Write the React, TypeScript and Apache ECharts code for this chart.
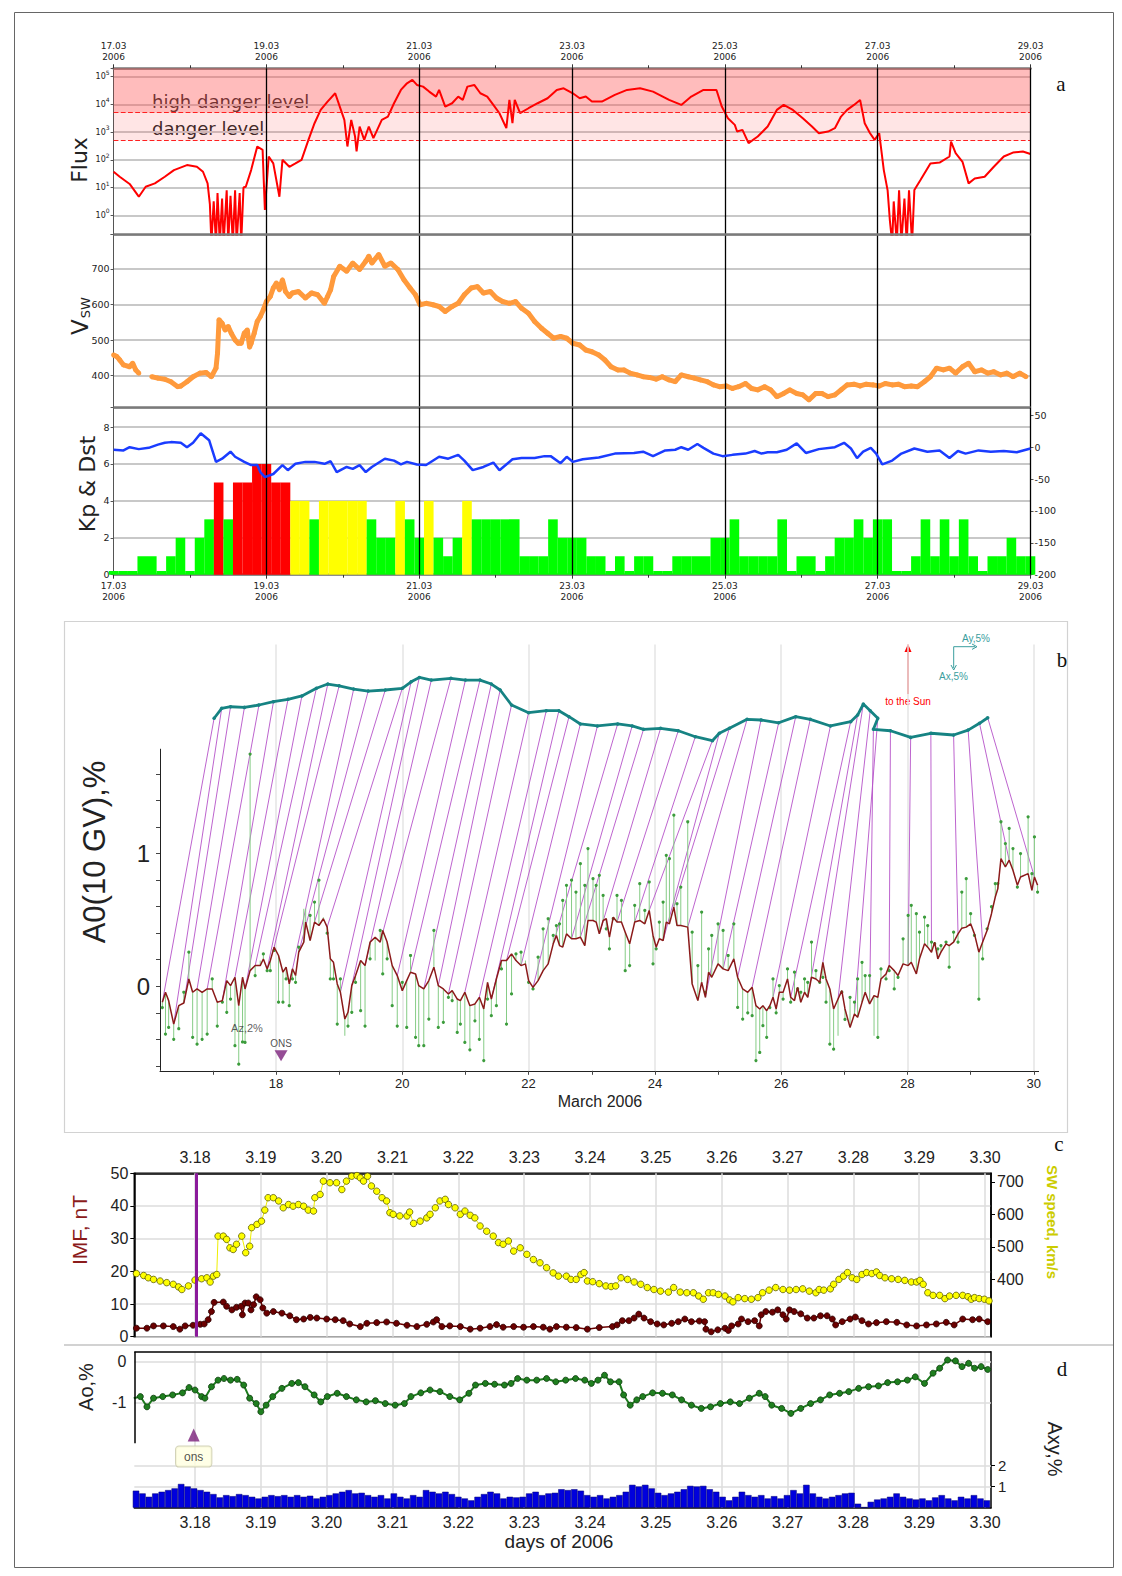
import React, { useEffect, useRef } from 'react';
import * as echarts from 'echarts';

const W = 1122;
const H = 1576;
const FA = 'DejaVu Sans';
const FB = 'Liberation Sans';

// ================= Panel a (days since 17.03.2006) =================
const aBlackLines = [2, 4, 6, 8, 10, 12];
const fluxMin = -0.7;
const fluxMax = 5.3;
const highDangerLevel = 5000;
const dangerLevel = 500;
// log10(flux)
const fluxLog = [
  [0.0, 1.57], [0.08, 1.39], [0.21, 1.13], [0.33, 0.67], [0.42, 1.03], [0.54, 1.15], [0.67, 1.39], [0.79, 1.63],
  [0.96, 1.81], [1.09, 1.75], [1.17, 1.57], [1.23, 1.15], [1.26, 0.4], [1.28, -1], [1.31, 0.5], [1.34, -1],
  [1.36, 0.8], [1.39, -1], [1.42, 0.6], [1.44, -1], [1.48, 0.9], [1.5, -1], [1.53, 0.7], [1.56, -1], [1.59, 0.9],
  [1.61, -1], [1.65, 0.8], [1.67, -1], [1.7, 1.0], [1.73, 1.03], [1.8, 1.63], [1.88, 2.48], [1.95, 2.36],
  [1.98, 0.19], [2.03, 2.12], [2.09, 1.87], [2.17, 0.67], [2.21, 2.0], [2.3, 1.75], [2.38, 1.87], [2.46, 2.0],
  [2.55, 2.72], [2.63, 3.32], [2.71, 3.8], [2.8, 4.1], [2.9, 4.4], [2.96, 3.92], [3.02, 3.44], [3.06, 2.48],
  [3.11, 3.44], [3.16, 2.84], [3.18, 2.3], [3.22, 3.2], [3.28, 2.72], [3.34, 3.2], [3.4, 2.78], [3.45, 3.08],
  [3.51, 3.44], [3.59, 3.56], [3.67, 4.04], [3.76, 4.52], [3.84, 4.76], [3.91, 4.88], [3.97, 4.7], [4.05, 4.64],
  [4.13, 4.46], [4.22, 4.28], [4.26, 4.52], [4.34, 3.92], [4.43, 4.04], [4.51, 4.28], [4.57, 4.16], [4.63, 4.64],
  [4.72, 4.7], [4.8, 4.4], [4.89, 4.28], [4.97, 3.98], [5.05, 3.68], [5.14, 3.14], [5.18, 4.16], [5.22, 3.32],
  [5.25, 4.16], [5.32, 3.68], [5.43, 3.86], [5.55, 4.04], [5.68, 4.22], [5.8, 4.52], [5.89, 4.58], [6.01, 4.4],
  [6.1, 4.22], [6.18, 4.28], [6.26, 4.1], [6.39, 4.1], [6.56, 4.34], [6.72, 4.52], [6.89, 4.58], [7.06, 4.46],
  [7.27, 4.16], [7.43, 3.98], [7.56, 4.28], [7.72, 4.52], [7.89, 4.52], [7.96, 3.92], [8.04, 3.5], [8.13, 3.26],
  [8.16, 3.02], [8.23, 3.08], [8.31, 2.6], [8.43, 2.84], [8.56, 3.2], [8.68, 3.8], [8.77, 3.98], [8.89, 3.8],
  [9.02, 3.5], [9.14, 3.2], [9.23, 2.96], [9.35, 3.02], [9.44, 3.14], [9.52, 3.56], [9.6, 3.8], [9.69, 3.98],
  [9.77, 4.16], [9.83, 3.32], [9.9, 2.96], [9.96, 2.72], [10.02, 2.96], [10.08, 1.63], [10.13, 0.9], [10.16, -0.2],
  [10.19, -1], [10.21, 0.5], [10.25, -1], [10.28, 0.9], [10.31, -1], [10.35, 0.6], [10.38, -1], [10.41, 0.9],
  [10.45, -1], [10.48, 0.91], [10.56, 1.27], [10.69, 1.87], [10.81, 1.9], [10.94, 2.12], [10.96, 2.66],
  [11.02, 2.24], [11.11, 1.93], [11.19, 1.15], [11.27, 1.33], [11.4, 1.39], [11.52, 1.75], [11.65, 2.12],
  [11.77, 2.26], [11.9, 2.3], [12.0, 2.21],
];
const vswMin = 310;
const vswMax = 795.6;
const vswData = [
  [0.0, 458], [0.04, 454], [0.08, 444], [0.13, 430], [0.21, 425], [0.25, 435], [0.29, 416], [0.33, 407], [0.41, null],
  [0.5, 397], [0.58, 393], [0.67, 390], [0.75, 383], [0.84, 369], [0.88, 371], [0.96, 383], [1.04, 397], [1.13, 407],
  [1.21, 409], [1.28, 397], [1.34, 421], [1.36, 463], [1.38, 557], [1.42, 547], [1.46, 528], [1.5, 538], [1.54, 519],
  [1.59, 500], [1.63, 491], [1.67, 491], [1.71, 519], [1.75, 528], [1.78, 480], [1.8, 491], [1.84, 519], [1.88, 552],
  [1.92, 566], [1.96, 585], [2.0, 608], [2.05, 622], [2.09, 646], [2.13, 660], [2.17, 641], [2.21, 669], [2.25, 636],
  [2.3, 622], [2.34, 632], [2.42, 636], [2.51, 618], [2.59, 632], [2.67, 627], [2.76, 603], [2.8, 622], [2.84, 641],
  [2.88, 678], [2.96, 707], [3.05, 693], [3.13, 716], [3.22, 698], [3.3, 721], [3.34, 735], [3.38, 716], [3.47, 740],
  [3.55, 707], [3.63, 716], [3.72, 698], [3.8, 669], [3.88, 646], [3.95, 627], [4.01, 599], [4.09, 603], [4.18, 599],
  [4.26, 594], [4.34, 580], [4.43, 594], [4.51, 603], [4.59, 627], [4.68, 646], [4.76, 650], [4.84, 632], [4.93, 636],
  [5.01, 618], [5.09, 608], [5.18, 603], [5.26, 608], [5.34, 589], [5.43, 575], [5.51, 552], [5.6, 533], [5.68, 519],
  [5.76, 505], [5.85, 510], [5.93, 505], [6.01, 491], [6.1, 486], [6.18, 472], [6.26, 467], [6.35, 458], [6.43, 444],
  [6.51, 425], [6.6, 416], [6.68, 416], [6.76, 407], [6.85, 402], [6.93, 397], [7.01, 395], [7.1, 390], [7.18, 397],
  [7.27, 388], [7.35, 383], [7.43, 402], [7.52, 397], [7.6, 393], [7.68, 388], [7.77, 383], [7.85, 374], [7.93, 369],
  [8.02, 371], [8.1, 364], [8.18, 369], [8.27, 378], [8.35, 364], [8.43, 360], [8.52, 369], [8.6, 360], [8.68, 341],
  [8.77, 350], [8.85, 360], [8.94, 350], [9.02, 346], [9.1, 332], [9.19, 350], [9.27, 350], [9.35, 341], [9.44, 346],
  [9.52, 360], [9.6, 374], [9.69, 376], [9.77, 371], [9.85, 376], [9.94, 374], [10.02, 371], [10.1, 378], [10.19, 374],
  [10.27, 376], [10.35, 369], [10.44, 371], [10.52, 369], [10.61, 383], [10.69, 397], [10.77, 421], [10.86, 416],
  [10.94, 421], [11.02, 407], [11.11, 425], [11.19, 435], [11.27, 411], [11.36, 416], [11.44, 407], [11.52, 411],
  [11.61, 402], [11.69, 407], [11.77, 397], [11.86, 407], [11.94, 397],
];
const dstData = [
  [0.0, -4], [0.13, -5], [0.21, 0], [0.33, -3], [0.46, -1], [0.58, 4], [0.67, 7], [0.75, 8], [0.88, 7], [0.96, 0],
  [1.04, 7], [1.14, 22], [1.25, 11], [1.34, -23], [1.42, -18], [1.53, -7], [1.59, -15], [1.71, -23], [1.8, -28],
  [1.88, -28], [1.92, -39], [1.98, -47], [2.09, -42], [2.21, -28], [2.28, -36], [2.38, -26], [2.51, -23], [2.63, -23],
  [2.76, -26], [2.84, -22], [2.92, -39], [3.05, -31], [3.13, -34], [3.22, -28], [3.3, -39], [3.38, -31], [3.55, -18],
  [3.67, -21], [3.76, -27], [3.84, -23], [3.97, -27], [4.09, -28], [4.26, -15], [4.38, -18], [4.51, -12], [4.59, -21],
  [4.7, -36], [4.84, -31], [4.97, -24], [5.05, -36], [5.22, -19], [5.34, -17], [5.51, -17], [5.64, -14], [5.72, -14],
  [5.85, -25], [5.93, -15], [6.01, -23], [6.14, -19], [6.35, -16], [6.56, -10], [6.81, -9], [6.93, -7], [7.06, -14],
  [7.22, -5], [7.35, -4], [7.43, 0], [7.52, -4], [7.64, 5], [7.72, -1], [7.85, -10], [7.97, -14], [8.1, -12],
  [8.27, -10], [8.39, -6], [8.48, -10], [8.56, -8], [8.68, -8], [8.81, -4], [8.94, 6], [9.06, -9], [9.23, -3],
  [9.44, 0], [9.56, 7], [9.65, -2], [9.73, -17], [9.81, -7], [9.91, -1], [9.98, -10], [10.06, -27], [10.19, -21],
  [10.31, -10], [10.48, -2], [10.65, -7], [10.81, -5], [10.94, -17], [11.05, -6], [11.15, -10], [11.32, -5],
  [11.48, -7], [11.65, -6], [11.82, -8], [12.0, -2],
];
// Kp every 3 hours, starting 17.03 00 UT
const kpStepDays = 0.125;
const kpValues = [
  0.2, 0.2, 0.2, 1, 1, 0.2, 1, 2, 0.2, 2,
  3, 5, 3, 5, 5, 6, 6, 5, 5, 4,
  4, 3, 4, 4, 4, 4, 4, 3, 2, 2,
  4, 3, 2, 4, 2, 1, 2, 4, 3, 3,
  3, 3, 3, 1, 1, 1, 3, 2, 2, 2,
  1, 1, 0.2, 1, 0.2, 1, 1, 0.2, 0.2, 1,
  1, 1, 1, 2, 2, 3, 1, 1, 1, 1,
  3, 0.2, 1, 1, 0.2, 1, 2, 2, 3, 2,
  3, 3, 0.2, 0.2, 1, 3, 1, 3, 1, 3,
  1, 0.2, 1, 1, 2, 1, 1,
];

// ================= Panel b (day of March 2006) =================
const xMinB = 16.163;
const xMaxB = 30.076;
const yMinB = -0.637;
const yMaxB = 2.576;
const yAxisTopB = 1.79;
const bDayLabels = [18, 20, 22, 24, 26, 28, 30];
const bDayTicks = [17, 18, 19, 20, 21, 22, 23, 24, 25, 26, 27, 28, 29, 30];
const bValLabels = [0, 1];
const bValTicks = [-0.6, -0.4, -0.2, 0, 0.2, 0.4, 0.6, 0.8, 1, 1.2, 1.4, 1.6];
const a0Day = [
  16.2, 16.25, 16.3, 16.38, 16.46, 16.54, 16.62, 16.68, 16.75, 16.83, 16.91, 16.99, 17.07, 17.15, 17.22, 17.28, 17.35,
  17.41, 17.47, 17.51, 17.59, 17.67, 17.75, 17.8, 17.86, 17.91, 17.97, 18.04, 18.11, 18.16, 18.21, 18.26, 18.31, 18.36,
  18.44, 18.47, 18.54, 18.61, 18.68, 18.75, 18.81, 18.86, 18.91, 18.97, 19.02, 19.09, 19.14, 19.2, 19.26, 19.34, 19.41,
  19.49, 19.57, 19.65, 19.69, 19.76, 19.84, 19.92, 20.0, 20.07, 20.13, 20.21, 20.26, 20.34, 20.42, 20.5, 20.57, 20.65,
  20.73, 20.79, 20.87, 20.92,
  20.99, 21.07, 21.15, 21.22, 21.29, 21.35, 21.41, 21.49, 21.57, 21.65, 21.73, 21.8, 21.88, 21.95, 22.0, 22.07, 22.15,
  22.23, 22.31, 22.39, 22.44, 22.49, 22.54, 22.6, 22.68, 22.75, 22.82, 22.89, 22.94, 23.02, 23.07, 23.12, 23.18, 23.23,
  23.28, 23.34, 23.4, 23.47, 23.53, 23.6, 23.68, 23.76, 23.84, 23.91, 23.97, 24.02, 24.07, 24.13, 24.18, 24.23, 24.3,
  24.35, 24.41, 24.52, 24.59, 24.68, 24.74, 24.8, 24.85, 24.9, 25.0, 25.08, 25.16, 25.25, 25.31, 25.39, 25.47, 25.54,
  25.6,
  25.66, 25.71, 25.77, 25.82, 25.87, 25.92, 25.97, 26.03, 26.1, 26.15, 26.21, 26.26, 26.31, 26.37, 26.42, 26.48, 26.55,
  26.61, 26.66, 26.71, 26.77, 26.83, 26.9, 26.96, 27.01, 27.09, 27.16, 27.21, 27.28, 27.33, 27.4, 27.47, 27.53, 27.58,
  27.66, 27.71, 27.79, 27.85, 27.93, 28.01, 28.06, 28.14, 28.19, 28.27, 28.32, 28.38, 28.43, 28.48, 28.53, 28.61, 28.66,
  28.73, 28.8, 28.86, 28.93, 29.0, 29.06, 29.13, 29.19, 29.26, 29.33, 29.39, 29.43, 29.48, 29.55, 29.61, 29.67, 29.74,
  29.79, 29.91, 29.97, 30.01, 30.06,
];
const a0Val = [
  -0.12, -0.045, -0.108, -0.285, -0.146, -0.126, 0.055, -0.045, -0.02, -0.045, -0.02, -0.02, -0.12, -0.108, 0.043,
  0.005, 0.068, -0.146, 0.068, -0.02, 0.118, 0.156, 0.156, 0.206, 0.131, 0.194, 0.295, 0.232, 0.106, 0.144, 0.018,
  0.131, 0.081, 0.257, 0.333, 0.484, 0.345, 0.484, 0.458, 0.509, 0.446, 0.207, 0.181, 0.018, -0.045, -0.247, -0.196,
  0.005, 0.081, 0.194, 0.156, 0.333, 0.37, 0.333, 0.421, 0.333, 0.156, 0.081, -0.033, 0.043, 0.106, 0.093, 0.005,
  -0.02, 0.043, 0.144, 0.005, -0.02, -0.058, -0.033, -0.096, -0.108,
  -0.045, -0.146, -0.133, -0.083, -0.171, 0.03, -0.096, 0.055, 0.194, 0.194, 0.244, 0.194, 0.156, 0.169, 0.043,
  -0.008, 0.043, 0.118, 0.169, 0.32, 0.383, 0.307, 0.295, 0.395, 0.358, 0.358, 0.37, 0.307, 0.496, 0.496, 0.484,
  0.395, 0.496, 0.509, 0.37, 0.521, 0.484, 0.484, 0.408, 0.32, 0.484, 0.496, 0.471, 0.572, 0.383, 0.295, 0.358, 0.345,
  0.484, 0.471, 0.597, 0.458, 0.458, 0.446, 0.018, -0.108, 0.03, -0.083, 0.106, 0.068, 0.169, 0.131, 0.118, 0.207,
  0.068, -0.02, -0.045, -0.008, -0.146,
  -0.171, -0.146, -0.184, -0.146, -0.083, -0.171, -0.045, -0.045, 0.055, -0.083, -0.108, -0.008, -0.121, -0.045,
  -0.083, 0.068, 0.055, 0.03, 0.181, 0.055, -0.02, -0.171, -0.096, -0.033, -0.171, -0.31, -0.209, -0.234, -0.121,
  -0.045, -0.133, -0.07, -0.083, 0.055, 0.093, 0.156, 0.118, 0.081, 0.169, 0.156, 0.181, 0.093, 0.207, 0.32, 0.295,
  0.257, 0.333, 0.207, 0.257, 0.32, 0.307, 0.333, 0.395, 0.438, 0.446, 0.471, 0.395, 0.257, 0.333, 0.421, 0.547,
  0.673, 0.735, 0.962, 0.899, 0.95, 0.874, 0.761, 0.824, 0.849, 0.723, 0.824, 0.761,
];
const azTip = [
  -0.16, -0.36, -0.31, -0.4, -0.32, -0.045, 0.257, -0.385, -0.436, -0.4, -0.36, 0.055, -0.3, -0.12, -0.196, -0.096,
  -0.448, -0.587, -0.42, -0.423, 1.75, 0.081, 0.194, 0.244, 0.118, 0.118, 0.27, -0.12, -0.12, 0.055, -0.146, 0.055,
  0.03, 0.295, 0.584, 0.584, 0.534, 0.635, 0.8, 0.52, 0.4, 0.055, 0.055, -0.285, 0.055, -0.373, -0.3, -0.196, 0.03,
  -0.184, -0.3, 0.207, 0.194, 0.421, 0.093, 0.207, -0.146, -0.3, 0.03, -0.31, 0.232, -0.385, -0.448, -0.448, -0.247,
  0.421, -0.31, -0.272, -0.083, -0.108, -0.348, -0.285,
  -0.423, -0.479, -0.26, -0.4, -0.56, -0.096, -0.222, -0.146, 0.131, -0.285, -0.058, 0.244, 0.257, 0.194, 0.03, -0.02,
  0.219, 0.433, 0.509, 0.383, 0.458, 0.471, 0.647, 0.761, 0.8, 0.71, 0.924, 0.761, 1.038, 0.811, 0.761, 0.836, 0.685,
  0.433, 0.282, 0.509, 0.685, 0.647, 0.118, 0.156, 0.61, 0.773, 0.572, 0.786, 0.169, 0.282, 0.484, 0.635, 0.987,
  0.962, 1.29, 0.622, 0.748, 1.24, 0.408, 0.156, 0.559, -0.045, 0.282, 0.383, 0.471, 0.421, 0.232, 0.471, -0.159,
  -0.247, -0.2, -0.222, -0.56,
  -0.499, -0.297, -0.385, -0.16, 0.055, -0.2, 0.005, -0.096, 0.131, -0.12, 0.106, -0.02, -0.045, 0.055, 0.03, 0.333,
  0.118, 0.03, 0.068, -0.12, -0.436, -0.474, -0.373, -0.045, -0.25, -0.083, -0.12, 0.055, 0.181, 0.081, 0.081,
  -0.373, -0.385, 0.131, 0.055, 0.118, -0.02, 0.068, 0.358, 0.534, 0.61, 0.547, 0.408, 0.521, 0.458, 0.333, 0.32,
  0.282, 0.307, 0.333, 0.144, 0.408, 0.333, 0.71, 0.811, 0.547, 0.383, -0.096, 0.207, 0.433, 0.6, 0.773, 0.773, 1.24,
  1.076, 1.19, 1.038, 0.748, 1.0, 1.277, 0.849, 1.126, 0.71,
];
// tips of the horizontal anisotropy vectors (vector diagram)
const tealDay = [
  17.02, 17.14, 17.28, 17.5, 17.73, 17.96, 18.19, 18.41, 18.64, 18.82, 19.0, 19.23, 19.46, 19.73, 20.0, 20.14, 20.27,
  20.46, 20.77, 21.0, 21.23, 21.41, 21.55, 21.73, 22.0, 22.28, 22.48, 22.64, 22.82, 23.09, 23.41, 23.64, 23.82, 24.09,
  24.37, 24.64, 24.91, 25.02, 25.18, 25.46, 25.68, 25.96, 26.23, 26.46, 26.78, 27.1, 27.21, 27.3, 27.41, 27.53, 27.46,
  27.73, 28.05, 28.37, 28.73, 28.96, 29.14, 29.27,
];
const tealVal = [
  2.02, 2.095, 2.107, 2.102, 2.12, 2.145, 2.163, 2.188, 2.246, 2.278, 2.265, 2.24, 2.225, 2.233, 2.246, 2.295, 2.328,
  2.308, 2.321, 2.308, 2.308, 2.278, 2.233, 2.12, 2.062, 2.077, 2.077, 2.032, 1.977, 1.962, 1.977, 1.962, 1.937,
  1.944, 1.926, 1.881, 1.851, 1.907, 1.944, 2.012, 2.007, 1.986, 2.032, 2.012, 1.962, 1.994, 2.044, 2.127, 2.077,
  2.02, 1.937, 1.926, 1.876, 1.907, 1.894, 1.931, 1.982, 2.024,
];
// time (day) of the A0 point that each vector tip belongs to
const vecBase = [
  16.2, 16.4, 16.55, 16.75, 16.95, 17.15, 17.35, 17.5, 17.7, 17.85, 18.0, 18.2, 18.4, 18.6, 18.8, 19.0, 19.2, 19.4,
  19.65, 19.9, 20.15, 20.35, 20.55, 20.75, 21.0, 21.25, 21.45, 21.65, 21.85, 22.1, 22.4, 22.65, 22.85, 23.1, 23.4,
  23.65, 23.9, 24.1, 24.3, 24.55, 24.8, 25.05, 25.3, 25.55, 25.85, 26.15, 26.4, 26.65, 26.9, 27.15, 27.4, 27.7, 28.0,
  28.35, 28.8, 29.2, 29.6, 30.0,
];
const onsB = [18.08, -0.523];
const azLabelPos = [17.54, -0.317];

// ================= Panel c =================
const xMinC = 17.078;
const xMaxC = 30.09;
const cDays = [18, 19, 20, 21, 22, 23, 24, 25, 26, 27, 28, 29, 30];
const swTicks = [400, 500, 600, 700];
const onsDayC = 18.02;
const swSpeed = [
  [17.11, 418], [17.22, 412], [17.29, 405], [17.37, 400], [17.47, 395], [17.57, 390], [17.67, 385], [17.75, 377],
  [17.8, 369], [17.9, 380], [18.0, 398], [18.1, 402], [18.18, 405], [18.23, 392], [18.28, 410], [18.33, 415],
  [18.35, 533], [18.43, 533], [18.48, 523], [18.53, 497], [18.58, 492], [18.63, 508], [18.71, 533], [18.77, 482],
  [18.83, 502], [18.86, 559], [18.94, 569], [19.01, 579], [19.06, 613], [19.11, 651], [19.19, 651], [19.27, 641],
  [19.34, 620], [19.42, 630], [19.49, 625], [19.57, 630], [19.65, 625], [19.72, 613], [19.8, 610], [19.82, 651],
  [19.9, 661], [19.95, 702], [20.05, 697], [20.15, 697], [20.23, 676], [20.3, 702], [20.38, 717], [20.46, 719],
  [20.51, 712], [20.56, 702], [20.62, 717], [20.68, 687], [20.76, 671], [20.84, 651], [20.91, 641], [20.96, 605],
  [21.01, 600], [21.11, 595], [21.22, 595], [21.26, 607], [21.32, 572], [21.42, 579], [21.52, 589], [21.57, 600],
  [21.65, 620], [21.72, 641], [21.8, 646], [21.85, 630], [21.95, 620], [22.03, 600], [22.1, 610], [22.18, 597],
  [22.25, 589], [22.33, 564], [22.43, 548], [22.53, 533], [22.61, 513], [22.68, 508], [22.76, 518], [22.84, 487],
  [22.94, 497], [23.04, 477], [23.14, 461], [23.24, 451], [23.34, 436], [23.44, 420], [23.52, 410], [23.64, 410],
  [23.71, 400], [23.79, 400], [23.86, 415], [23.91, 421], [23.96, 395], [24.04, 393], [24.14, 387], [24.24, 380],
  [24.32, 378], [24.39, 380], [24.47, 405], [24.57, 400], [24.67, 392], [24.77, 385], [24.87, 375], [24.97, 369],
  [25.07, 364], [25.19, 361], [25.27, 375], [25.37, 361], [25.47, 359], [25.57, 359], [25.65, 349], [25.72, 339],
  [25.8, 359], [25.87, 359], [25.95, 354], [26.05, 349], [26.12, 337], [26.17, 331], [26.25, 344], [26.35, 341],
  [26.45, 339], [26.55, 344], [26.62, 359], [26.72, 367], [26.82, 375], [26.93, 369], [27.03, 367], [27.13, 369],
  [27.23, 371], [27.33, 364], [27.43, 359], [27.48, 369], [27.55, 367], [27.65, 371], [27.7, 385], [27.78, 400],
  [27.85, 410], [27.91, 421], [27.98, 405], [28.05, 400], [28.13, 415], [28.2, 421], [28.28, 418], [28.35, 423],
  [28.4, 412], [28.48, 405], [28.58, 402], [28.68, 400], [28.78, 397], [28.88, 392], [28.96, 392], [29.01, 397],
  [29.06, 385], [29.13, 359], [29.21, 351], [29.31, 351], [29.39, 341], [29.46, 349], [29.56, 351], [29.66, 351],
  [29.74, 347], [29.79, 339], [29.84, 344], [29.91, 341], [29.99, 339], [30.06, 334],
];
const imfData = [
  [17.11, 2.6], [17.27, 2.6], [17.37, 3.3], [17.52, 3.3], [17.67, 3.1], [17.77, 2.3], [17.85, 3.3], [17.97, 3.5],
  [18.08, 3.8], [18.14, 3.9], [18.2, 5.2], [18.25, 7.7], [18.29, 10.5], [18.43, 10.6], [18.48, 9.3], [18.56, 8.2],
  [18.63, 9.0], [18.7, 9.3], [18.72, 6.7], [18.76, 10.3], [18.81, 10.3], [18.85, 8.2], [18.89, 9.8], [18.93, 12.2],
  [18.99, 11.3], [19.03, 8.8], [19.09, 7.2], [19.19, 7.7], [19.32, 7.2], [19.44, 6.4], [19.54, 5.2], [19.65, 5.4],
  [19.75, 5.9], [19.85, 5.7], [20.0, 5.4], [20.13, 5.2], [20.25, 4.9], [20.35, 3.9], [20.51, 3.1], [20.61, 4.1],
  [20.76, 4.3], [20.91, 4.5], [21.06, 4.1], [21.22, 3.5], [21.37, 3.1], [21.52, 3.8], [21.62, 4.5], [21.67, 5.2],
  [21.75, 3.1], [21.87, 3.3], [22.03, 3.1], [22.18, 2.3], [22.33, 2.6], [22.48, 3.1], [22.58, 3.7], [22.68, 2.9],
  [22.84, 3.1], [22.99, 2.9], [23.14, 3.1], [23.29, 2.9], [23.39, 2.3], [23.49, 3.1], [23.64, 2.9], [23.79, 2.8],
  [23.96, 2.3], [24.14, 2.8], [24.34, 3.1], [24.41, 3.6], [24.49, 4.9], [24.59, 4.9], [24.67, 5.7], [24.74, 6.9],
  [24.82, 5.7], [24.92, 4.6], [25.02, 3.9], [25.12, 3.6], [25.24, 4.1], [25.34, 4.6], [25.44, 5.4], [25.54, 4.6],
  [25.66, 4.8], [25.74, 4.6], [25.76, 2.3], [25.84, 1.5], [25.94, 2.1], [26.05, 2.6], [26.1, 1.9], [26.15, 3.3],
  [26.25, 3.9], [26.3, 5.4], [26.4, 4.6], [26.5, 4.9], [26.57, 3.3], [26.6, 6.7], [26.67, 7.7], [26.77, 7.5],
  [26.85, 8.2], [26.93, 6.7], [26.98, 5.4], [27.03, 8.2], [27.1, 7.7], [27.2, 7.0], [27.3, 5.7], [27.4, 5.7],
  [27.5, 6.4], [27.6, 6.4], [27.68, 5.4], [27.73, 3.6], [27.83, 4.6], [27.95, 5.4], [28.03, 6.0], [28.13, 4.9],
  [28.23, 3.9], [28.35, 4.3], [28.5, 4.6], [28.66, 4.4], [28.81, 3.6], [28.96, 3.3], [29.11, 3.6], [29.26, 3.9],
  [29.41, 4.4], [29.53, 3.6], [29.66, 5.4], [29.81, 5.2], [29.91, 5.4], [30.04, 4.6],
];

// ================= Panel d =================
const aoMin = -3.56;
const aoMax = 0.244;
const aoAxisBottom = -1.99;
const axyMax = 7.43;
const axyLabels = [1, 2];
const aoData = [
  [17.07, -0.89], [17.17, -0.85], [17.27, -1.1], [17.37, -0.89], [17.51, -0.85], [17.66, -0.81], [17.81, -0.76],
  [17.91, -0.63], [18.0, -0.69], [18.1, -0.85], [18.15, -0.89], [18.25, -0.61], [18.35, -0.45], [18.44, -0.41],
  [18.54, -0.45], [18.64, -0.43], [18.74, -0.57], [18.83, -0.89], [18.93, -1.02], [19.0, -1.22], [19.08, -1.06],
  [19.18, -0.85], [19.32, -0.65], [19.47, -0.53], [19.57, -0.51], [19.67, -0.61], [19.81, -0.81], [19.91, -0.98],
  [20.01, -0.85], [20.16, -0.77], [20.3, -0.85], [20.45, -0.93], [20.6, -0.98], [20.74, -0.95], [20.89, -1.02],
  [21.04, -1.06], [21.18, -1.02], [21.28, -0.85], [21.43, -0.76], [21.57, -0.69], [21.72, -0.73], [21.87, -0.85],
  [22.02, -0.93], [22.16, -0.77], [22.26, -0.57], [22.41, -0.53], [22.55, -0.55], [22.7, -0.57], [22.8, -0.53],
  [22.9, -0.41], [23.04, -0.45], [23.19, -0.45], [23.34, -0.41], [23.48, -0.49], [23.63, -0.45], [23.78, -0.41],
  [23.92, -0.45], [24.02, -0.53], [24.12, -0.45], [24.22, -0.33], [24.31, -0.49], [24.44, -0.49], [24.51, -0.81],
  [24.61, -1.06], [24.71, -0.93], [24.8, -0.85], [24.95, -0.76], [25.1, -0.77], [25.25, -0.81], [25.39, -0.93],
  [25.54, -1.06], [25.69, -1.14], [25.83, -1.1], [25.98, -1.02], [26.13, -0.98], [26.27, -1.02], [26.42, -0.89],
  [26.57, -0.77], [26.66, -0.85], [26.76, -1.06], [26.91, -1.14], [27.05, -1.26], [27.2, -1.14], [27.35, -1.02],
  [27.5, -0.93], [27.64, -0.81], [27.79, -0.77], [27.93, -0.73], [28.08, -0.65], [28.23, -0.61], [28.38, -0.59],
  [28.52, -0.51], [28.67, -0.49], [28.82, -0.45], [28.94, -0.37], [29.08, -0.53], [29.21, -0.28], [29.31, -0.16],
  [29.43, 0.04], [29.55, 0.02], [29.65, -0.12], [29.75, -0.04], [29.84, -0.16], [29.94, -0.12], [30.04, -0.19],
];
const axyStart = 17.104;
const axyStep = 0.0979;
const axyValues = [
  0.81, 0.68, 0.52, 0.68, 0.76, 0.84, 0.92, 1.13, 1.01, 0.92, 0.84, 0.76, 0.65, 0.49, 0.6, 0.55, 0.65, 0.6, 0.52, 0.44,
  0.52, 0.6, 0.55, 0.6, 0.52, 0.6, 0.52, 0.57, 0.44, 0.52, 0.6, 0.68, 0.76, 0.84, 0.68, 0.71, 0.6, 0.52, 0.6, 0.44,
  0.68, 0.52, 0.44, 0.6, 0.52, 0.84, 0.76, 0.68, 0.76, 0.65, 0.52, 0.44, 0.35, 0.52, 0.65, 0.76, 0.68, 0.44, 0.52,
  0.49, 0.52, 0.68, 0.76, 0.6, 0.68, 0.71, 0.88, 0.84, 0.88, 0.81, 0.6, 0.52, 0.6, 0.44, 0.52, 0.6, 0.76, 1.09, 1.01,
  1.09, 0.92, 0.71, 0.6, 0.68, 0.76, 0.88, 1.04, 1.01, 1.04, 0.88, 0.76, 0.52, 0.35, 0.52, 0.76, 0.6, 0.52, 0.6, 0.44,
  0.55, 0.44, 0.6, 0.84, 0.68, 1.09, 0.68, 0.52, 0.44, 0.52, 0.6, 0.68, 0.71, 0.19, 0.03, 0.28, 0.39, 0.44, 0.52, 0.68,
  0.52, 0.44, 0.39, 0.44, 0.35, 0.49, 0.6, 0.44, 0.35, 0.52, 0.44, 0.6, 0.44, 0.35,
];
const onsD = [17.98, -1.79];

// ================= helpers =================
const kpColor = (v: number) => (v >= 5 ? '#ff0000' : v >= 4 ? '#ffff00' : '#00ff00');
const nearestA0 = (d: number) => {
  let best = 0;
  for (let i = 1; i < a0Day.length; i++) {
    if (Math.abs(a0Day[i] - d) < Math.abs(a0Day[best] - d)) best = i;
  }
  return best;
};
const isInt = (v: number) => Math.abs(v - Math.round(v)) < 1e-6;
const mlBase = { silent: true, symbol: ['none', 'none'], label: { show: false }, animation: false };
const vl = (x: number, color: string, width: number, type = 'solid') => ({ xAxis: x, lineStyle: { color, width, type } });
const hl = (y: number, color: string, width: number, type = 'solid') => ({ yAxis: y, lineStyle: { color, width, type } });

function buildOption() {
  const aXAxis = (gi: number, pos: string, show: boolean) => ({
    type: 'value', gridIndex: gi, min: 0, max: 12, interval: 2, position: pos,
    axisLine: { show, onZero: false, lineStyle: { color: '#7a7a7a', width: 2.5 } },
    axisTick: { show, length: 4, lineStyle: { color: '#333' } },
    minorTick: { show, splitNumber: 2, length: 3, lineStyle: { color: '#333' } },
    axisLabel: {
      show, formatter: (v: number) => `${17 + v}.03\n2006`, fontFamily: FA, fontSize: 9, color: '#222',
      lineHeight: 11, margin: 6,
    },
    splitLine: { show: false },
  });
  const dayLabel = (v: number) => (isInt(v) ? `3.${Math.round(v)}` : '');

  const purple = vecBase.map((b, i) => {
    const j = nearestA0(b);
    return [a0Day[j], a0Val[j], tealDay[i], tealVal[i]];
  });
  const stems = a0Day.map((d, i) => [d, a0Val[i], azTip[i]]);

  return {
    animation: false,
    backgroundColor: '#ffffff',
    grid: [
      { left: 113.6, top: 68.3, width: 916.9, height: 166.4 },
      { left: 113.6, top: 234.7, width: 916.9, height: 173 },
      { left: 113.6, top: 407.7, width: 916.9, height: 167 },
      { left: 160, top: 644.5, width: 878.6, height: 426.3 },
      { left: 134.3, top: 1173.3, width: 856.7, height: 163.4, show: true, borderColor: '#000', borderWidth: 1.5 },
      { left: 134.3, top: 1351.7, width: 856.7, height: 156 },
    ],
    xAxis: [
      aXAxis(0, 'top', true),
      aXAxis(1, 'bottom', false),
      aXAxis(2, 'bottom', true),
      {
        type: 'value', gridIndex: 3, min: xMinB, max: xMaxB, position: 'bottom',
        axisLine: { show: true, onZero: false, lineStyle: { color: '#222', width: 1 } },
        axisTick: { show: true, customValues: bDayTicks, length: 4, lineStyle: { color: '#444' } },
        axisLabel: {
          customValues: bDayLabels, formatter: (v: number) => (bDayLabels.includes(v) ? String(v) : ''),
          fontFamily: FB, fontSize: 13, color: '#222', margin: 6,
        },
        splitLine: { show: false },
      },
      {
        type: 'value', gridIndex: 4, min: xMinC, max: xMaxC, position: 'top',
        axisLine: { show: true, onZero: false, lineStyle: { color: '#000', width: 1.5 } },
        axisTick: { show: false },
        axisLabel: { customValues: cDays, formatter: dayLabel, fontFamily: FB, fontSize: 16, color: '#222', margin: 8 },
        splitLine: { show: false },
      },
      {
        type: 'value', gridIndex: 5, min: xMinC, max: xMaxC, position: 'bottom',
        axisLine: { show: true, onZero: false, lineStyle: { color: '#000', width: 1.5 } },
        axisTick: { show: false },
        axisLabel: { customValues: cDays, formatter: dayLabel, fontFamily: FB, fontSize: 16, color: '#222', margin: 7 },
        splitLine: { show: false },
      },
    ],
    yAxis: [
      {
        type: 'value', gridIndex: 0, min: fluxMin, max: fluxMax, minInterval: 1, maxInterval: 1,
        axisLine: { show: true, onZero: false, lineStyle: { color: '#555', width: 1 } },
        axisTick: { show: true, length: 3, lineStyle: { color: '#555' } },
        axisLabel: {
          formatter: (v: number) => (isInt(v) ? `10{s|${Math.round(v)}}` : ''),
          fontFamily: FA, fontSize: 8, color: '#222', margin: 4,
          rich: { s: { fontFamily: FA, fontSize: 6, color: '#222', padding: [0, 0, 9, 0] } },
        },
        splitLine: { show: true, lineStyle: { color: '#c8c8c8', width: 2 } },
      },
      {
        type: 'value', gridIndex: 1, min: vswMin, max: vswMax, minInterval: 100, maxInterval: 100,
        axisLine: { show: true, onZero: false, lineStyle: { color: '#555', width: 1 } },
        axisTick: { show: true, length: 3, lineStyle: { color: '#555' } },
        axisLabel: {
          formatter: (v: number) => (Math.abs(v % 100) < 1e-6 ? String(v) : ''),
          fontFamily: FA, fontSize: 9.5, color: '#222', margin: 4,
        },
        splitLine: { show: true, lineStyle: { color: '#c8c8c8', width: 2 } },
      },
      {
        type: 'value', gridIndex: 2, min: 0, max: 9.05, interval: 2,
        axisLine: { show: true, onZero: false, lineStyle: { color: '#555', width: 1 } },
        axisTick: { show: true, length: 3, lineStyle: { color: '#555' } },
        axisLabel: { showMaxLabel: false, fontFamily: FA, fontSize: 9.5, color: '#222', margin: 4 },
        splitLine: { show: true, lineStyle: { color: '#c8c8c8', width: 2 } },
      },
      {
        type: 'value', gridIndex: 2, position: 'right', min: -200, max: 62, interval: 50,
        axisLine: { show: true, onZero: false, lineStyle: { color: '#555', width: 1 } },
        axisTick: { show: true, length: 3, lineStyle: { color: '#555' } },
        axisLabel: { showMaxLabel: false, fontFamily: FA, fontSize: 9.5, color: '#222', margin: 4 },
        splitLine: { show: false },
      },
      {
        type: 'value', gridIndex: 3, min: yMinB, max: yMaxB,
        axisLine: { show: false, onZero: false },
        axisTick: { show: true, customValues: bValTicks, length: 4, lineStyle: { color: '#444' } },
        axisLabel: {
          customValues: bValLabels, formatter: (v: number) => (bValLabels.includes(v) ? String(v) : ''),
          fontFamily: FB, fontSize: 24, color: '#222', margin: 10, showMinLabel: true, showMaxLabel: true,
        },
        splitLine: { show: false },
      },
      {
        type: 'value', gridIndex: 4, min: 0, max: 50, interval: 10,
        axisLine: { show: true, onZero: false, lineStyle: { color: '#000', width: 1.5 } },
        axisTick: { show: true, length: 4, lineStyle: { color: '#000' } },
        axisLabel: { fontFamily: FB, fontSize: 16, color: '#222', margin: 6 },
        splitLine: { show: true, lineStyle: { color: '#dcdcdc', width: 1.5 } },
      },
      {
        type: 'value', gridIndex: 4, position: 'right', min: 224, max: 726,
        axisLine: { show: true, onZero: false, lineStyle: { color: '#000', width: 1.5 } },
        axisTick: { show: true, customValues: swTicks, length: 4, lineStyle: { color: '#000' } },
        axisLabel: {
          customValues: swTicks, formatter: (v: number) => (swTicks.includes(v) ? String(v) : ''),
          fontFamily: FB, fontSize: 16, color: '#222', margin: 6, showMinLabel: true, showMaxLabel: true,
        },
        splitLine: { show: false },
      },
      {
        type: 'value', gridIndex: 5, min: aoMin, max: aoMax,
        axisLine: { show: false, onZero: false },
        axisTick: { show: false },
        axisLabel: {
          customValues: [-1, 0], formatter: (v: number) => (v === 0 || v === -1 ? String(v) : ''),
          fontFamily: FB, fontSize: 16, color: '#222', margin: 8, showMinLabel: true, showMaxLabel: true,
        },
        splitLine: { show: false },
      },
      {
        type: 'value', gridIndex: 5, position: 'right', min: 0, max: axyMax,
        axisLine: { show: true, onZero: false, lineStyle: { color: '#000', width: 1.5 } },
        axisTick: { show: true, customValues: axyLabels, length: 4, lineStyle: { color: '#000' } },
        axisLabel: {
          customValues: axyLabels, formatter: (v: number) => (axyLabels.includes(v) ? String(v) : ''),
          fontFamily: FB, fontSize: 15, color: '#222', margin: 7, showMinLabel: true, showMaxLabel: true,
        },
        splitLine: { show: false },
      },
    ],
    series: [
      // ---------- a: Flux ----------
      {
        type: 'line', xAxisIndex: 0, yAxisIndex: 0, data: fluxLog, symbol: 'none', clip: true,
        lineStyle: { color: '#ff0000', width: 2 }, itemStyle: { color: '#ff0000' },
        markArea: {
          silent: true, label: { show: false },
          data: [
            [{ yAxis: Math.log10(highDangerLevel), itemStyle: { color: 'rgba(255,80,80,0.38)' } }, { yAxis: fluxMax }],
            [{ yAxis: Math.log10(dangerLevel), itemStyle: { color: 'rgba(255,80,80,0.15)' } }, { yAxis: Math.log10(highDangerLevel) }],
          ],
        },
        markLine: {
          ...mlBase,
          data: [
            hl(Math.log10(highDangerLevel), '#ff2020', 1.2, 'dashed'),
            hl(Math.log10(dangerLevel), '#ff2020', 1.2, 'dashed'),
            ...aBlackLines.map((x) => vl(x, '#000', 1.3)),
          ],
        },
      },
      // ---------- a: Vsw ----------
      {
        type: 'line', xAxisIndex: 1, yAxisIndex: 1, data: vswData, symbol: 'circle', symbolSize: 5,
        showAllSymbol: true, connectNulls: false,
        lineStyle: { color: '#ff9a3c', width: 5 }, itemStyle: { color: '#ff9a3c' },
        markLine: {
          ...mlBase,
          data: [
            ...aBlackLines.map((x) => vl(x, '#000', 1.3)),
            hl(vswMax, '#7a7a7a', 2.5),
            hl(vswMin, '#7a7a7a', 2.5),
          ],
        },
      },
      // ---------- a: Kp ----------
      {
        type: 'bar', xAxisIndex: 2, yAxisIndex: 2, barWidth: 9.6, clip: true,
        data: kpValues.map((v, k) => ({ value: [k * kpStepDays, v], itemStyle: { color: kpColor(v) } })),
      },
      // ---------- a: Dst ----------
      {
        type: 'line', xAxisIndex: 2, yAxisIndex: 3, data: dstData, symbol: 'none', z: 6,
        lineStyle: { color: '#1a3cff', width: 2.5 },
        markLine: { ...mlBase, z: 5, data: aBlackLines.map((x) => vl(x, '#000', 1.3)) },
      },
      // ---------- b: grid lines & y axis segment ----------
      {
        type: 'line', xAxisIndex: 3, yAxisIndex: 4, data: [], z: 1,
        markLine: {
          ...mlBase, z: 1,
          data: [
            ...bDayLabels.map((x) => vl(x, '#e4e4e4', 1.5)),
            [{ coord: [xMinB, yMinB], lineStyle: { color: '#222', width: 1, type: 'solid' } }, { coord: [xMinB, yAxisTopB] }],
          ],
        },
      },
      // ---------- b: purple connectors ----------
      {
        type: 'custom', xAxisIndex: 3, yAxisIndex: 4, data: purple, z: 2,
        encode: { x: [0, 2], y: [1, 3] },
        renderItem: (params: any, api: any) => {
          const p0 = api.coord([api.value(0), api.value(1)]);
          const p1 = api.coord([api.value(2), api.value(3)]);
          return {
            type: 'line',
            shape: { x1: p0[0], y1: p0[1], x2: p1[0], y2: p1[1] },
            style: { stroke: '#b552c8', lineWidth: 0.9, fill: 'none' },
          };
        },
      },
      // ---------- b: Az stems ----------
      {
        type: 'custom', xAxisIndex: 3, yAxisIndex: 4, data: stems, z: 3,
        encode: { x: 0, y: [1, 2] },
        renderItem: (params: any, api: any) => {
          const x = api.value(0);
          const p0 = api.coord([x, api.value(1)]);
          const p1 = api.coord([x, api.value(2)]);
          return {
            type: 'group',
            children: [
              { type: 'line', shape: { x1: p0[0], y1: p0[1], x2: p1[0], y2: p1[1] }, style: { stroke: '#86cc86', lineWidth: 1 } },
              { type: 'circle', shape: { cx: p1[0], cy: p1[1], r: 1.6 }, style: { fill: '#3c9c3c' } },
            ],
          };
        },
      },
      // ---------- b: A0 ----------
      {
        type: 'line', xAxisIndex: 3, yAxisIndex: 4, data: a0Day.map((d, i) => [d, a0Val[i]]), symbol: 'none', z: 4,
        lineStyle: { color: '#8b1a1a', width: 1.5 },
      },
      // ---------- b: vector-diagram tips ----------
      {
        type: 'line', xAxisIndex: 3, yAxisIndex: 4, data: tealDay.map((d, i) => [d, tealVal[i]]), z: 4,
        symbol: 'circle', symbolSize: 3.5, showAllSymbol: true,
        lineStyle: { color: '#168383', width: 2.8 }, itemStyle: { color: '#168383' },
      },
      // ---------- b: ONS / Az label ----------
      {
        type: 'scatter', xAxisIndex: 3, yAxisIndex: 4, z: 5,
        data: [
          {
            value: onsB, symbol: 'triangle', symbolRotate: 180, symbolSize: [13, 11], itemStyle: { color: '#7a1f7a' },
            label: { show: true, formatter: 'ONS', position: 'top', distance: 2, fontFamily: FB, fontSize: 10, color: '#222' },
          },
          {
            value: azLabelPos, symbolSize: 1, itemStyle: { color: 'rgba(0,0,0,0)' },
            label: { show: true, formatter: 'Az,2%', position: 'inside', fontFamily: FB, fontSize: 11, color: '#333' },
          },
        ],
      },
      // ---------- c: IMF ----------
      {
        type: 'line', xAxisIndex: 4, yAxisIndex: 5, data: imfData, symbol: 'circle', symbolSize: 6, showAllSymbol: true, z: 3,
        lineStyle: { color: '#6b0000', width: 1.5 }, itemStyle: { color: '#6b0000', borderColor: '#2a0000', borderWidth: 0.8 },
        markLine: { ...mlBase, z: 1, data: cDays.map((x) => vl(x, '#dcdcdc', 1.5)) },
      },
      // ---------- c: SW speed ----------
      {
        type: 'line', xAxisIndex: 4, yAxisIndex: 6, data: swSpeed, symbol: 'circle', symbolSize: 6.5, showAllSymbol: true, z: 3,
        lineStyle: { color: '#eeee00', width: 1 }, itemStyle: { color: '#ffff00', borderColor: '#5c5c00', borderWidth: 0.8 },
        markLine: { ...mlBase, z: 5, data: [vl(onsDayC, '#8b1a9b', 3)] },
      },
      // ---------- d: Ao ----------
      {
        type: 'line', xAxisIndex: 5, yAxisIndex: 7, data: aoData, symbol: 'circle', symbolSize: 6, showAllSymbol: true, z: 3,
        lineStyle: { color: '#1e7b1e', width: 2 }, itemStyle: { color: '#1f7f1f', borderColor: '#0a3a0a', borderWidth: 0.8 },
        markLine: {
          ...mlBase, z: 1,
          data: [...cDays.map((x) => vl(x, '#dcdcdc', 1.5)), hl(0, '#dcdcdc', 1.5), hl(-1, '#dcdcdc', 1.5)],
        },
      },
      // ---------- d: Axy ----------
      {
        type: 'bar', xAxisIndex: 5, yAxisIndex: 8, barWidth: 6.4, z: 3,
        data: axyValues.map((v, i) => [axyStart + i * axyStep, v]),
        itemStyle: { color: '#0000dd', borderColor: '#000070', borderWidth: 0.5 },
        markLine: { ...mlBase, z: 1, data: axyLabels.map((y) => hl(y, '#dcdcdc', 1.5)) },
      },
      // ---------- d: ons & frame ----------
      {
        type: 'scatter', xAxisIndex: 5, yAxisIndex: 7, z: 6,
        data: [
          {
            value: onsD, symbol: 'triangle', symbolSize: [12, 13], itemStyle: { color: '#7a1f7a' },
            label: {
              show: true, formatter: 'ons', position: 'bottom', distance: 5, fontFamily: FB, fontSize: 12, color: '#222',
              backgroundColor: '#ffffe0', borderColor: '#c8c8a8', borderWidth: 1, borderRadius: 3, padding: [4, 8],
            },
          },
        ],
        markLine: {
          ...mlBase, z: 5,
          data: [
            hl(aoMax, '#000', 1.5),
            [{ coord: [xMinC, aoMax], lineStyle: { color: '#000', width: 1.5, type: 'solid' } }, { coord: [xMinC, aoAxisBottom] }],
          ],
        },
      },
    ],
    graphic: [
      { type: 'rect', silent: true, shape: { x: 14.5, y: 12.5, width: 1099, height: 1555 }, style: { fill: 'none', stroke: '#666', lineWidth: 1 } },
      { type: 'rect', silent: true, shape: { x: 64.5, y: 621.5, width: 1003, height: 511 }, style: { fill: 'none', stroke: '#d2d2d2', lineWidth: 1.2 } },
      { type: 'line', silent: true, shape: { x1: 64, y1: 1345, x2: 1113, y2: 1345 }, style: { stroke: '#d2d2d2', lineWidth: 2 } },
      // panel letters
      { type: 'text', x: 1061, y: 84, style: { text: 'a', font: '21px "Liberation Serif"', fill: '#111', align: 'center', verticalAlign: 'middle' } },
      { type: 'text', x: 1062, y: 660, style: { text: 'b', font: '21px "Liberation Serif"', fill: '#111', align: 'center', verticalAlign: 'middle' } },
      { type: 'text', x: 1059, y: 1144, style: { text: 'c', font: '21px "Liberation Serif"', fill: '#111', align: 'center', verticalAlign: 'middle' } },
      { type: 'text', x: 1062, y: 1369, style: { text: 'd', font: '21px "Liberation Serif"', fill: '#111', align: 'center', verticalAlign: 'middle' } },
      // panel a titles
      { type: 'text', x: 79, y: 160, rotation: Math.PI / 2, style: { text: 'Flux', font: '22px "DejaVu Sans"', fill: '#222', align: 'center', verticalAlign: 'middle' } },
      {
        type: 'text', x: 80, y: 316, rotation: Math.PI / 2,
        style: {
          text: '{v|V}{s|SW}', align: 'center', verticalAlign: 'middle', fill: '#222',
          rich: { v: { fontFamily: FA, fontSize: 23, fill: '#222' }, s: { fontFamily: FA, fontSize: 13, fill: '#222', padding: [11, 0, 0, 1] } },
        },
      },
      { type: 'text', x: 87, y: 484, rotation: Math.PI / 2, style: { text: 'Kp & Dst', font: '22px "DejaVu Sans"', fill: '#222', align: 'center', verticalAlign: 'middle' } },
      { type: 'text', x: 152, y: 101.5, style: { text: 'high danger level', font: '18px "DejaVu Sans"', fill: '#222', align: 'left', verticalAlign: 'middle' } },
      { type: 'text', x: 152, y: 128, style: { text: 'danger level', font: '18px "DejaVu Sans"', fill: '#222', align: 'left', verticalAlign: 'middle' } },
      // panel b titles and legend arrows
      { type: 'text', x: 94, y: 852, rotation: Math.PI / 2, style: { text: 'A0(10 GV),%', font: '31px "Liberation Sans"', fill: '#222', align: 'center', verticalAlign: 'middle' } },
      { type: 'text', x: 600, y: 1101, style: { text: 'March 2006', font: '16px "Liberation Sans"', fill: '#222', align: 'center', verticalAlign: 'middle' } },
      { type: 'line', silent: true, shape: { x1: 908, y1: 694, x2: 908, y2: 650 }, style: { stroke: '#ff0000', lineWidth: 1.5 } },
      { type: 'polygon', silent: true, shape: { points: [[904.5, 652], [911.5, 652], [908, 644]] }, style: { fill: '#ff0000' } },
      { type: 'text', x: 908, y: 701, style: { text: 'to the Sun', font: '10px "Liberation Sans"', fill: '#ff0000', align: 'center', verticalAlign: 'middle' } },
      { type: 'line', silent: true, shape: { x1: 953.7, y1: 646.7, x2: 975, y2: 646.7 }, style: { stroke: '#3a9e9e', lineWidth: 1 } },
      { type: 'polyline', silent: true, shape: { points: [[972, 644], [977, 646.7], [972, 649.4]] }, style: { stroke: '#3a9e9e', lineWidth: 1, fill: 'none' } },
      { type: 'text', x: 976, y: 638, style: { text: 'Ay,5%', font: '10px "Liberation Sans"', fill: '#3a9e9e', align: 'center', verticalAlign: 'middle' } },
      { type: 'line', silent: true, shape: { x1: 953.7, y1: 646.7, x2: 953.7, y2: 668 }, style: { stroke: '#3a9e9e', lineWidth: 1 } },
      { type: 'polyline', silent: true, shape: { points: [[951, 665], [953.7, 670], [956.4, 665]] }, style: { stroke: '#3a9e9e', lineWidth: 1, fill: 'none' } },
      { type: 'text', x: 953.5, y: 676, style: { text: 'Ax,5%', font: '10px "Liberation Sans"', fill: '#3a9e9e', align: 'center', verticalAlign: 'middle' } },
      // panel c titles
      { type: 'text', x: 79, y: 1230, rotation: Math.PI / 2, style: { text: 'IMF, nT', font: '21px "Liberation Sans"', fill: '#8b1c1c', align: 'center', verticalAlign: 'middle' } },
      { type: 'text', x: 1052, y: 1222, rotation: -Math.PI / 2, style: { text: 'SW speed, km/s', font: 'bold 15px "Liberation Sans"', fill: '#cccc00', align: 'center', verticalAlign: 'middle' } },
      // panel d titles
      { type: 'text', x: 86, y: 1387, rotation: Math.PI / 2, style: { text: 'Ao,%', font: '20px "Liberation Sans"', fill: '#222', align: 'center', verticalAlign: 'middle' } },
      { type: 'text', x: 1055, y: 1449, rotation: -Math.PI / 2, style: { text: 'Axy,%', font: '20px "Liberation Sans"', fill: '#222', align: 'center', verticalAlign: 'middle' } },
      { type: 'text', x: 559, y: 1541, style: { text: 'days of 2006', font: '19px "Liberation Sans"', fill: '#222', align: 'center', verticalAlign: 'middle' } },
    ],
  };
}

export default function App() {
  const ref = useRef<HTMLDivElement>(null);
  useEffect(() => {
    if (!ref.current) return;
    const chart = echarts.init(ref.current, null, { renderer: 'svg' });
    chart.setOption(buildOption() as any);
    return () => {
      chart.dispose();
    };
  }, []);
  return (
    <div
      ref={ref}
      style={{ position: 'absolute', left: 0, top: 0, width: W, height: H, background: '#ffffff' }}
    />
  );
}
